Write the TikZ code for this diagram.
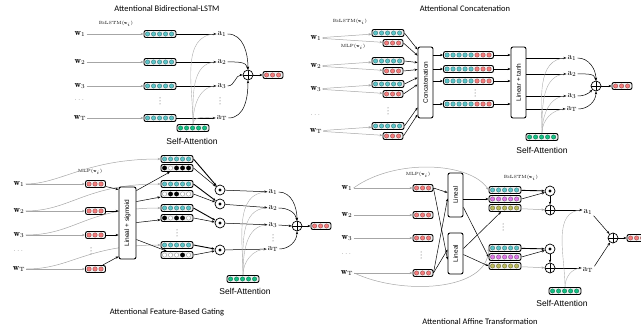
\documentclass[tikz,border=0pt]{standalone}
\usepackage{fontspec}
\usepackage{amsmath}
\usepackage{graphicx}
\usetikzlibrary{arrows.meta, calc}

\newfontfamily\sansf{Liberation Sans}
\newfontfamily\titlef{Carlito}

\definecolor{tl}{RGB}{92,196,200}
\definecolor{rd}{RGB}{244,124,124}
\definecolor{gn}{RGB}{20,190,130}
\definecolor{pu}{RGB}{222,120,232}
\definecolor{ol}{RGB}{186,184,92}
\definecolor{bk}{RGB}{0,0,0}
\definecolor{wt}{RGB}{255,255,255}

\tikzset{
  vecbox/.style={draw=black, line width=0.9pt, rounded corners=2pt, fill=gray!12,
    minimum height=7pt, inner sep=0pt},
  vdot/.style={fill=#1, draw=#1!55!black, line width=0.3pt},
  opbox/.style={draw=black, line width=0.9pt, rounded corners=2pt, fill=white,
    inner sep=0pt, font=\sansf\fontsize{6.5}{7}\selectfont},
  oplus/.style={circle, draw, line width=0.7pt, minimum size=10pt, inner sep=0pt, fill=white,
    path picture={\draw[black, line width=0.6pt] (path picture bounding box.north) -- (path picture bounding box.south)
      (path picture bounding box.west) -- (path picture bounding box.east);}},
  odot/.style={circle, draw, line width=0.7pt, minimum size=10pt, inner sep=0pt, fill=white,
    path picture={\fill[black] (path picture bounding box.center) circle (1.7pt);}},
  wlab/.style={inner sep=1pt, font=\fontsize{9}{9}\selectfont},
  alab/.style={inner sep=1pt, font=\fontsize{9}{9}\selectfont},
  vd/.style={inner sep=0pt, text=black!75, font=\fontsize{6}{6}\selectfont},
  tinylab/.style={inner sep=0pt, font=\fontsize{4.5}{5}\selectfont},
  ttl/.style={font=\titlef\fontsize{8.5}{9}\selectfont},
  satxt/.style={font=\sansf\fontsize{8.5}{9}\selectfont},
  gline/.style={draw=gray!70, line width=0.5pt, ->},
  bline/.style={draw=black, line width=0.5pt, ->},
  attc/.style={draw=gray!65, line width=0.4pt},
}

% vector of dots: name, position, list of dot colours
\newcommand{\vecrow}[3]{%
  \edef\vlist{#3}%
  \foreach \vc [count=\vk] in \vlist {\xdef\vn{\vk}}%
  \node[vecbox, minimum width=\vn*6pt+2pt] (#1) at (#2) {};
  \foreach \vc [count=\vk] in \vlist \filldraw[vdot=\vc] ($(#1.west)+(\vk*6-2,0)$) circle (2.2pt);
}
% vertical dots between rows
\newcommand{\vdts}[1]{%
  \foreach \vv in {-3,0,3} \fill[black!70] ($(#1)+(0,\vv)$) circle (0.5pt);
}

\begin{document}
\begin{tikzpicture}[x=1pt, y=-1pt, >={Stealth[length=3pt, width=2.4pt]}]
    \clip (0,0) rectangle (641,331);

    % --- Attentional Bidirectional-LSTM ---
    \node[ttl] at (167,9) {Attentional Bidirectional-LSTM};
    \node[tinylab] at (116,24) {BiLSTM($\mathbf{w}_i$)};
    \foreach \i/\y in {1/34, 2/62, 3/86, T/118} {
        \node[wlab] (A-w\i) at (80,\y) {$\mathbf{w}_{\mathrm{\i}}$};
        \vecrow{A-h\i}{160,\y}{tl,tl,tl,tl,tl}
        \node[alab] (A-a\i) at (222,\y) {$\mathrm{a}_{\mathrm{\i}}$};
        \draw[gline] (A-w\i) -- (A-h\i);
        \draw[bline] (A-h\i) -- (A-a\i);
    }
    \node[vd] at (80,100) {$\cdots$};
    \vdts{160,101}
    \vdts{220,101}

    \vecrow{A-att}{193,128}{gn,gn,gn,gn,gn}
    \node[satxt] at (192,141) {Self-Attention};
    \foreach \i in {1,2,3,T}
        \draw[attc] (A-att.north) to[out=90, in=180] (A-a\i.west);

    \node[oplus] (A-sum) at (248,75) {};
    \draw[bline] (A-a1.east) to[out=0, in=90] (A-sum.north);
    \draw[bline] (A-a2.east) to[out=0, in=100] (A-sum.north);
    \draw[bline] (A-a3.east) to[out=0, in=180] (A-sum.west);
    \draw[bline] (A-aT.east) to[out=0, in=-90] (A-sum.south);
    \vecrow{A-out}{273,75}{rd,rd,rd}
    \draw[bline] (A-sum) -- (A-out);

    % --- Attentional Concatenation ---
    \node[ttl] at (465,9) {Attentional Concatenation};
    \node[tinylab] at (350,22) {BiLSTM($\mathbf{w}_i$)};
    \node[tinylab] at (353,47) {MLP($\mathbf{w}_i$)};
    \foreach \i/\y in {1/38, 2/66, 3/89, T/131} {
        \node[wlab] (B-w\i) at (316,\y) {$\mathbf{w}_{\mathrm{\i}}$};
        \vecrow{B-h\i}{388,\y-5}{tl,tl,tl,tl,tl}
        \vecrow{B-m\i}{393,\y+5}{rd,rd,rd}
        \draw[gline] (B-w\i) -- (B-h\i);
        \draw[gline] (B-w\i) -- (B-m\i);
    }
    \node[vd] at (316,115) {$\cdots$};
    \vdts{388,111}

    \node[opbox, minimum width=15, minimum height=71] (B-cat) at (425.5,82.5) {\rotatebox{90}{Concatenation}};
    \foreach \n/\d in {h1/3, m1/9, h2/16, m2/23, h3/31, m3/38, hT/61, mT/68}
        \draw[bline] (B-\n.east) -- ($(B-cat.north west)+(0,\d)$);

    \node[opbox, minimum width=15, minimum height=71] (B-lin) at (518.5,82.5) {\rotatebox{90}{Linear + tanh}};
    \foreach \i/\y in {1/55, 2/69, 3/81, T/104} {
        \vecrow{B-c\i}{468.5,\y}{tl,tl,tl,tl,tl,rd,rd,rd}
        \draw[bline] (B-cat.east |- B-c\i) -- (B-c\i);
        \draw[bline] (B-c\i) -- (B-lin.west |- B-c\i);
    }
    \vdts{475,93}

    \foreach \i/\y in {1/58, 2/74, 3/96, T/109} {
        \node[alab] (B-a\i) at (572,\y) {$\mathrm{a}_{\mathrm{\i}}$};
        \draw[bline] (B-lin.east |- B-a\i) -- (B-a\i);
    }
    \vecrow{B-att}{542,137}{gn,gn,gn,gn,gn}
    \node[satxt] at (542,150) {Self-Attention};
    \foreach \i in {1,2,3,T}
        \draw[attc] (B-att.north) to[out=90, in=180] (B-a\i.west);

    \node[oplus] (B-sum) at (596,86) {};
    \draw[bline] (B-a1.east) to[out=0, in=90] (B-sum.north);
    \draw[bline] (B-a2.east) to[out=0, in=100] (B-sum.north);
    \draw[bline] (B-a3.east) to[out=0, in=-135] (B-sum.south west);
    \draw[bline] (B-aT.east) to[out=0, in=-90] (B-sum.south);
    \vecrow{B-out}{622,86}{rd,rd,rd}
    \draw[bline] (B-sum) -- (B-out);

    % --- Attentional Feature-Based Gating ---
    \node[ttl] at (167,312) {Attentional Feature-Based Gating};
    \node[tinylab] at (90,172) {MLP($\mathbf{w}_i$)};
    \foreach \i/\y/\ty/\c in {1/184/159/35, 2/211/184/45, 3/235/208/50, T/269/245/45} {
        \node[wlab] (C-w\i) at (19,\y) {$\mathbf{w}_{\mathrm{\i}}$};
        \vecrow{C-m\i}{95.5,\y}{rd,rd,rd}
        \vecrow{C-t\i}{177,\ty}{tl,tl,tl,tl,tl}
        \draw[gline] (C-w\i) -- (C-m\i);
        \draw[gline] (C-w\i.east) .. controls +(\c,0) and +(-75,0) .. (C-t\i.west);
    }
    \node[vd] at (19,251) {$\cdots$};
    \vdts{91,251}

    \node[opbox, minimum width=17, minimum height=72] (C-lin) at (127.5,223) {\rotatebox{90}{Lineal + sigmoid}};
    \draw[bline] (C-m1) -- ($(C-lin.north west)+(0,3)$);
    \draw[bline] (C-m2) -- (C-lin.west |- C-m2);
    \draw[bline] (C-m3) -- (C-lin.west |- C-m3);
    \draw[bline] (C-mT) -- ($(C-lin.south west)+(0,-3)$);

    \foreach \i/\y/\d/\bits in {1/168/4/{bk,wt,bk,bk,bk}, 2/194/15/{wt,bk,bk,wt,wt},
                                3/218/36/{bk,wt,bk,bk,wt}, T/255/53/{wt,wt,wt,bk,wt}} {
        \vecrow{C-g\i}{177,\y}{\bits}
        \draw[bline] ($(C-lin.north east)+(0,\d)$) -- (C-g\i);
    }
    \vdts{177,233}

    \foreach \i/\oy/\ay in {1/190/192, 2/204/208, 3/223/225, T/250/249} {
        \node[odot] (C-o\i) at (220,\oy) {};
        \node[alab] (C-a\i) at (273,\ay) {$\mathrm{a}_{\mathrm{\i}}$};
        \draw[bline, line width=0.9pt] (C-t\i.east) -- (C-o\i);
        \draw[bline] (C-g\i.east) -- (C-o\i);
        \draw[bline] (C-o\i) -- (C-a\i);
    }
    \vdts{273,238}

    \vecrow{C-att}{243,279}{gn,gn,gn,gn,gn}
    \node[satxt] at (245,291) {Self-Attention};
    \foreach \i in {1,2,3,T}
        \draw[attc] (C-att.north) to[out=90, in=180] (C-a\i.west);

    \node[oplus] (C-sum) at (297,226) {};
    \draw[bline] (C-a1.east) to[out=0, in=90] (C-sum.north);
    \draw[bline] (C-a2.east) to[out=0, in=100] (C-sum.north);
    \draw[bline] (C-a3.east) -- (C-sum.west);
    \draw[bline] (C-aT.east) to[out=0, in=-90] (C-sum.south);
    \vecrow{C-out}{321,226}{rd,rd,rd}
    \draw[bline] (C-sum) -- (C-out);

    % --- Attentional Affine Transformation ---
    \node[ttl] at (480,322) {Attentional Affine Transformation};
    \node[tinylab] at (418,175) {MLP($\mathbf{w}_i$)};
    \node[tinylab] at (521,178) {BiLSTM($\mathbf{w}_i$)};
    \foreach \i/\y in {1/188, 2/215, 3/238, T/273} {
        \node[wlab] (D-w\i) at (347,\y) {$\mathbf{w}_{\mathrm{\i}}$};
        \vecrow{D-m\i}{423,\y}{rd,rd,rd}
        \draw[gline] (D-w\i) -- (D-m\i);
    }
    \node[vd] at (347,254) {$\cdots$};
    \vdts{421,255}

    % BiLSTM / scale / shift vectors
    \foreach \i/\y in {1/190, T/248} {
        \vecrow{D-t\i}{505,\y}{tl,tl,tl,tl,tl}
        \vecrow{D-p\i}{505,\y+9}{pu,pu,pu,pu,pu}
        \vecrow{D-o\i}{505,\y+18}{ol,ol,ol,ol,ol}
    }
    \vdts{503,227}
    \draw[gline] (D-w1.east) .. controls (395,158) and (470,162) .. (D-t1.west);
    \draw[gline] (D-wT.east) .. controls (400,295) and (488,292) .. (D-tT.west);

    \node[opbox, minimum width=15, minimum height=44] (D-l1) at (455.5,195) {\rotatebox{90}{Lineal}};
    \node[opbox, minimum width=15, minimum height=41] (D-l2) at (455.5,253.5) {\rotatebox{90}{Lineal}};
    \draw[bline] (D-m1.east) -- ($(D-l1.north west)+(0,20)$);
    \draw[bline] (D-mT.east) -- ($(D-l1.north west)+(0,26)$);
    \draw[bline] (D-m1.east) -- ($(D-l2.north west)+(0,27)$);
    \draw[bline] (D-mT.east) -- ($(D-l2.north west)+(0,17)$);

    \draw[bline] (D-l1.east |- D-p1) -- (D-p1);
    \draw[bline] ($(D-l1.south east)+(0,-10)$) -- (D-pT.west);
    \draw[bline] ($(D-l2.north east)+(0,16)$) -- ($(D-o1.south)+(-4,0)$);
    \draw[bline] ($(D-l2.north east)+(0,22)$) -- (D-oT.west);

    \foreach \i/\y in {1/191, T/249} {
        \node[odot] (D-x\i) at (550,\y) {};
        \node[oplus] (D-s\i) at (550,\y+19) {};
        \node[alab] (D-a\i) at (588,\y+21) {$\mathrm{a}_{\mathrm{\i}}$};
        \draw[bline, line width=0.9pt] (D-t\i) -- (D-x\i);
        \draw[bline] (D-p\i.east) -- (D-x\i);
        \draw[bline] (D-x\i) -- (D-s\i);
        \draw[gline] (D-o\i) -- (D-s\i);
        \draw[bline] (D-s\i) -- (D-a\i.west |- D-s\i);
    }

    \vecrow{D-att}{565,291}{gn,gn,gn,gn,gn}
    \node[satxt] at (562,303) {Self-Attention};
    \foreach \i in {1,T}
        \draw[attc] (D-att.north) to[out=90, in=180] (D-a\i.west |- D-s\i);

    \node[oplus] (D-sum) at (613,238) {};
    \draw[bline] (D-a1.south east) -- (D-sum);
    \draw[bline] (D-aT.north east) -- (D-sum);
    \vecrow{D-out}{637,238}{rd,rd,rd}
    \draw[bline] (D-sum) -- (D-out);

\end{tikzpicture}
\end{document}
